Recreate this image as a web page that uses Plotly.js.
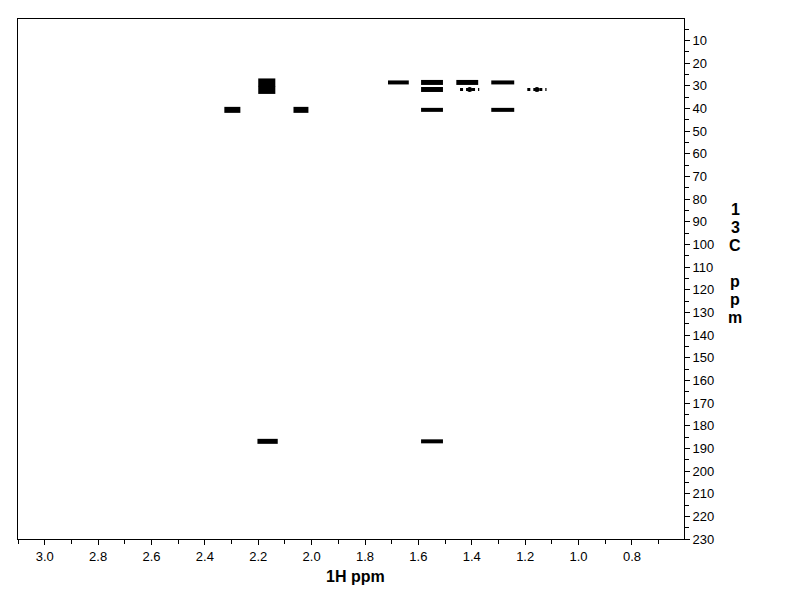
<!DOCTYPE html>
<html>
<head>
<meta charset="utf-8">
<script src="https://cdn.plot.ly/plotly-3.0.1.min.js"></script>
<style>html,body{margin:0;padding:0;background:#fff;}#chart{width:792px;height:612px;}</style>
</head>
<body>
<div id="chart"></div>
<script>
// Cross-peak table
const peakH      = [2.297, 2.168, 2.168, 2.040, 1.675, 1.549, 1.549, 1.549, 1.417, 1.408, 1.284, 1.284, 1.156, 2.165, 1.549];
const peakC      = [40.6,  28.5,  31.8,  40.6,  28.5,  28.5,  31.6,  40.6,  28.5,  31.6,  28.5,  40.6,  31.6,  186.9, 186.9];
const peakHalfW  = [0.030, 0.032, 0.032, 0.028, 0.039, 0.041, 0.041, 0.041, 0.041, 0.036, 0.043, 0.043, 0.036, 0.038, 0.041];
const peakWeak   = [false, false, false, false, false, false, false, false, false, true,  false, false, true,  false, false];
const peakThick  = [6, 8, 8, 6, 4, 5, 5, 4, 5, 3, 4, 4, 3, 5, 4];

const xTickVals = [3.0, 2.8, 2.6, 2.4, 2.2, 2.0, 1.8, 1.6, 1.4, 1.2, 1.0, 0.8];
const yTickVals = [10,20,30,40,50,60,70,80,90,100,110,120,130,140,150,160,170,180,190,200,210,220,230];
const yTitleChars = ['1','3','C','','p','p','m'];

const font = "Liberation Sans, Arial, sans-serif";
const traces = [];
for (let i = 0; i < peakH.length; i++) {
  traces.push({
    type: 'scatter', mode: 'lines',
    x: [peakH[i] + peakHalfW[i], peakH[i] - peakHalfW[i]],
    y: [peakC[i], peakC[i]],
    line: {color: '#000', width: peakThick[i], dash: peakWeak[i] ? '3px,3px' : 'solid'},
    hoverinfo: 'skip', showlegend: false
  });
  if (peakWeak[i]) {
    traces.push({
      type: 'scatter', mode: 'markers',
      x: [peakH[i]], y: [peakC[i]],
      marker: {color: '#000', size: 5, symbol: 'circle'},
      hoverinfo: 'skip', showlegend: false
    });
  }
}

const annotations = [{
  text: '<b>1H ppm</b>', xref: 'paper', yref: 'paper',
  x: (355 - 18) / 666, y: (539 - 576) / 520, xanchor: 'center', yanchor: 'middle',
  showarrow: false, font: {family: font, size: 16, color: '#000'}
}];
for (let i = 0; i < yTitleChars.length; i++) {
  if (!yTitleChars[i]) continue;
  const py = 209 + i * 18;
  annotations.push({
    text: '<b>' + yTitleChars[i] + '</b>', xref: 'paper', yref: 'paper',
    x: (735 - 18) / 666, y: (539 - py) / 520, xanchor: 'center', yanchor: 'middle',
    showarrow: false, font: {family: font, size: 16, color: '#000'}
  });
}

const layout = {
  width: 792, height: 612,
  margin: {l: 18, r: 108, t: 19, b: 73, pad: 0},
  paper_bgcolor: '#fff', plot_bgcolor: '#fff',
  font: {family: font, size: 13, color: '#000'},
  xaxis: {
    range: [3.1, 0.605], tickvals: xTickVals, ticktext: xTickVals.map(v => v.toFixed(1)),
    showgrid: false, zeroline: false, showline: true, mirror: true, linecolor: '#000', linewidth: 1,
    ticks: 'outside', ticklen: 5, tickcolor: '#000', tickwidth: 1,
    minor: {dtick: 0.1, ticks: 'outside', ticklen: 4, tickcolor: '#000', showgrid: false},
    tickfont: {family: font, size: 13, color: '#000'}
  },
  yaxis: {
    range: [230, 0.5], side: 'right', tickvals: yTickVals,
    showgrid: false, zeroline: false, showline: true, mirror: true, linecolor: '#000', linewidth: 1,
    ticks: 'outside', ticklen: 5, tickcolor: '#000', tickwidth: 1,
    minor: {dtick: 5, ticks: 'outside', ticklen: 4, tickcolor: '#000', showgrid: false},
    tickfont: {family: font, size: 13, color: '#000'}
  },
  annotations: annotations
};

Plotly.newPlot('chart', traces, layout, {staticPlot: true, displayModeBar: false});
</script>
</body>
</html>
